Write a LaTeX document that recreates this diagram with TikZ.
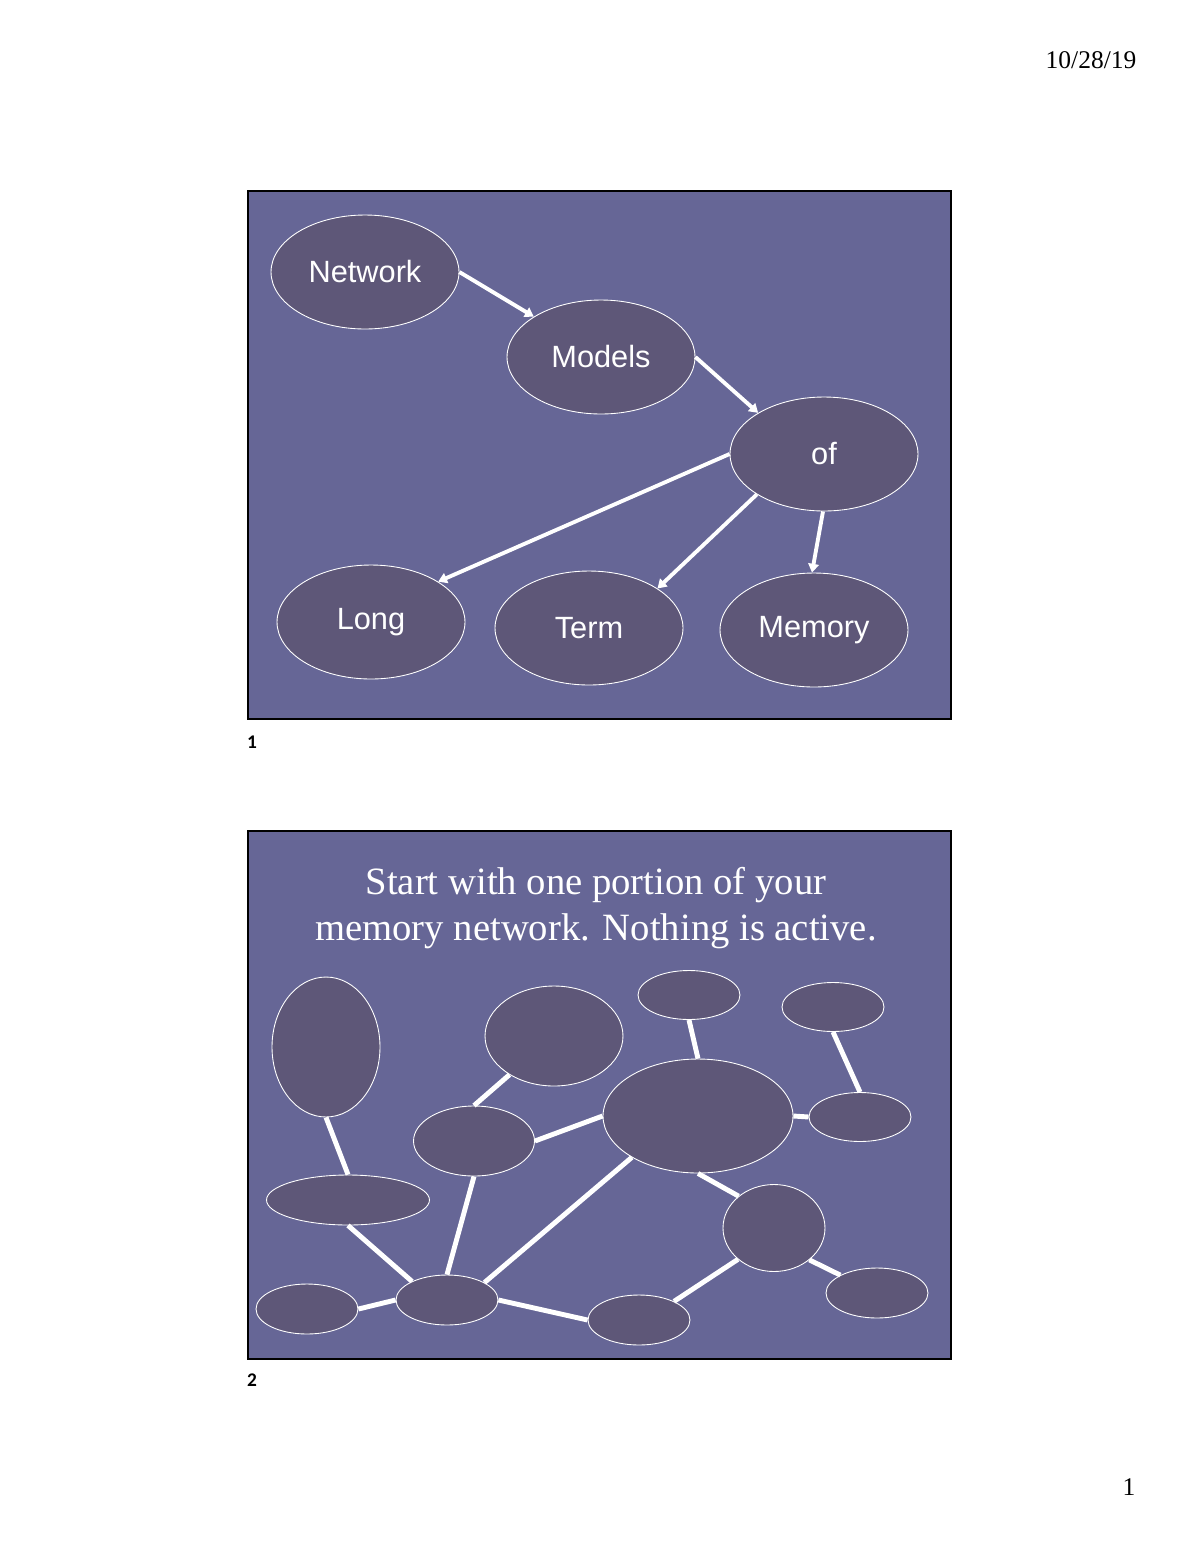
\documentclass[tikz,border=0pt]{standalone}
\usepackage{fontspec}
\setmainfont{Liberation Serif}
\newfontfamily\slidesans{Liberation Sans}
\newfontfamily\notefont{Carlito}
\usetikzlibrary{shapes.geometric,arrows.meta}
\definecolor{slidebg}{RGB}{102,102,150}
\definecolor{nodefill}{RGB}{94,87,120}
\begin{document}
\begin{tikzpicture}[
  x = 0.02cm, y = -0.02cm,
  word/.style = {ellipse, draw = white, line width = 0.5pt, fill = nodefill,
                 text = white, inner sep = 0pt, minimum width = 3.76cm,
                 minimum height = 2.28cm, font = \slidesans\fontsize{17.5}{20}\selectfont},
  blob/.style 2 args = {ellipse, draw = white, line width = 0.5pt, fill = nodefill,
                 inner sep = 0pt, minimum width = #1, minimum height = #2},
  link/.style = {draw = white, line width = 2.2pt, -{Triangle[length = 5pt, width = 6pt]}},
  tie/.style = {draw = white, line width = 2.8pt},
  frame/.style = {draw = black, line width = 1.5pt, fill = slidebg},
  tag/.style = {inner sep = 0pt, font = \notefont\bfseries\fontsize{11}{13}\selectfont},
  ]
  \useasboundingbox (0,0) rectangle (1200,1553);
  \fill[white] (0,0) rectangle (1200,1553);
  \node[inner sep = 0pt, font = \fontsize{14.5}{17}\selectfont] (date) at (1091,60) {10/28/19};
  \node[inner sep = 0pt, font = \fontsize{14.5}{17}\selectfont] (page) at (1129,1487) {1};

  % slide 1
  \draw[frame] (248,191) rectangle (951,719);
  \node[tag] (num1) at (252,742) {1};
  \node[word] (network) at (365,272) {Network};
  \node[word] (models) at (601,357) {Models};
  \node[word] (of) at (824,454) {of};
  \node[word] (long) at (371,622) {\raisebox{-2pt}{Long}};
  \node[word] (term) at (589,628) {Term};
  \node[word] (memory) at (814,630) {\raisebox{-2pt}{Memory}};
  \draw[link] (network.east) -- (models.149);
  \draw[link] (models.east) -- (of.148);
  \draw[link] (of.west) -- (long.31);
  \draw[link] (of.211) -- (term.30);
  \draw[link] (of.-91) -- (memory.92);

  % slide 2
  \draw[frame] (248,831) rectangle (951,1359);
  \node[tag] (num2) at (252,1380) {2};
  \node[align = center, text = white, inner sep = 0pt,
        font = \fontsize{22}{26}\selectfont] (title) at (596,908)
        {Start with one portion of your\\memory network. Nothing is active.};
  \node[blob = {2.16cm}{2.8cm}] (a) at (326,1047) {};
  \node[blob = {2.76cm}{2.0cm}] (b) at (554,1036) {};
  \node[blob = {2.04cm}{0.98cm}] (c) at (689,995) {};
  \node[blob = {2.04cm}{0.98cm}] (d) at (833,1007) {};
  \node[blob = {3.8cm}{2.28cm}] (e) at (698,1116) {};
  \node[blob = {2.04cm}{0.98cm}] (f) at (860,1117) {};
  \node[blob = {2.42cm}{1.4cm}] (g) at (474,1141) {};
  \node[blob = {3.26cm}{1.0cm}] (h) at (348,1200) {};
  \node[blob = {2.04cm}{1.74cm}] (i) at (774,1228) {};
  \node[blob = {2.04cm}{1.0cm}] (j) at (307,1309) {};
  \node[blob = {2.04cm}{1.0cm}] (k) at (447,1300) {};
  \node[blob = {2.04cm}{1.0cm}] (l) at (639,1320) {};
  \node[blob = {2.04cm}{1.0cm}] (m) at (877,1293) {};
  \draw[tie] (a.south) -- (h.north);
  \draw[tie] (b) -- (g.north);
  \draw[tie] (c.south) -- (e.north);
  \draw[tie] (d.south) -- (f.north);
  \draw[tie] (g.east) -- (e.west);
  \draw[tie] (e.east) -- (f.west);
  \draw[tie] (e.south) -- (i.138);
  \draw[tie] (e.212) -- (k.25);
  \draw[tie] (g.south) -- (k.north);
  \draw[tie] (h.south) -- (k.152);
  \draw[tie] (j.east) -- (k.west);
  \draw[tie] (k.east) -- (l.west);
  \draw[tie] (l.28) -- (i.221);
  \draw[tie] (i.-42) -- (m.154);
\end{tikzpicture}
\end{document}
